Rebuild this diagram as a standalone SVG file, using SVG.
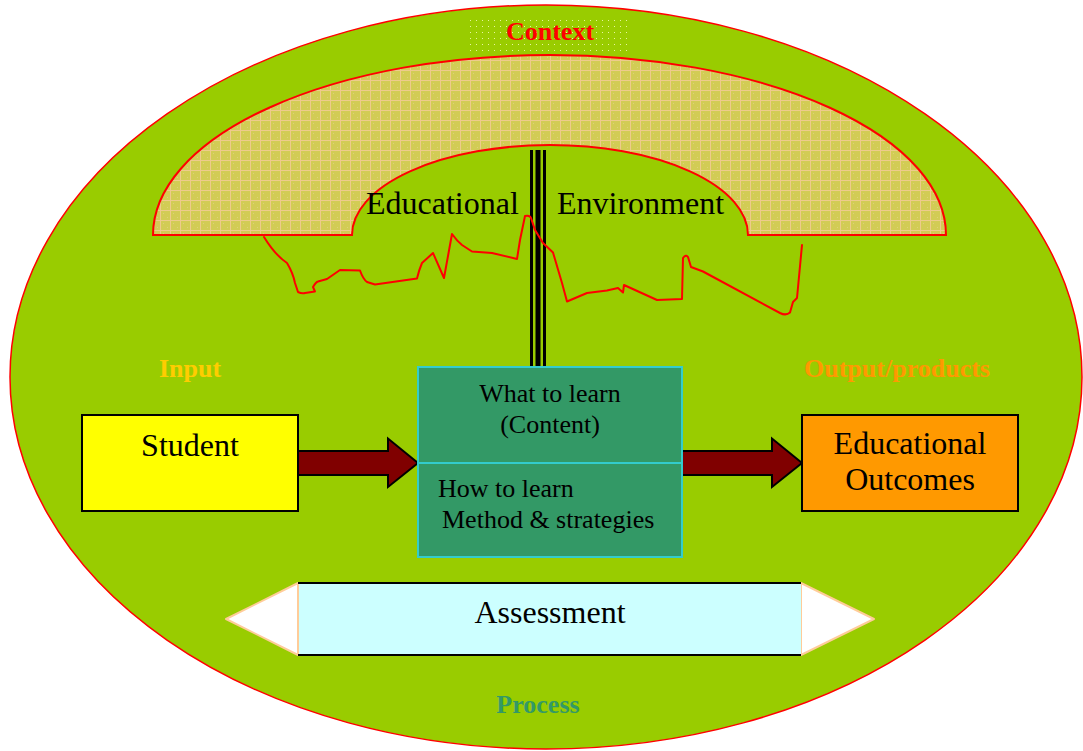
<svg xmlns="http://www.w3.org/2000/svg" width="1083" height="751" viewBox="0 0 1083 751">
  <defs>
    <pattern id="hatch" width="10" height="10" patternUnits="userSpaceOnUse">
      <rect width="10" height="10" fill="#d2cc55"/>
      <rect x="3" y="3" width="1" height="1" fill="#dcd478"/>
      <rect x="7" y="7" width="1" height="1" fill="#dcd478"/>
      <path d="M0 0.5H10M0.5 0V10" stroke="#eecb8c" stroke-width="1"/>
    </pattern>
    <pattern id="dots" width="6" height="6" patternUnits="userSpaceOnUse">
      <rect width="6" height="6" fill="#99cc00"/>
      <rect x="2" y="2" width="1" height="1" fill="#e8f5a0"/>
    </pattern>
    <style>
      .lbl { font-family: "Liberation Serif", "Times New Roman", serif; font-weight: bold; font-size: 26px; text-anchor: middle; }
      .big { font-family: "Liberation Serif", "Times New Roman", serif; font-size: 32px; fill: #000; }
      .mid { font-family: "Liberation Serif", "Times New Roman", serif; font-size: 26px; fill: #000; }
      .box { stroke: #000; stroke-width: 2; }
      .arrow { fill: #800000; stroke: #000; stroke-width: 2; stroke-linejoin: miter; }
    </style>
  </defs>

  <g id="context">
    <ellipse cx="546" cy="377" rx="536" ry="372" fill="#99cc00" stroke="#ff0000" stroke-width="1.5"/>
    <rect x="468" y="15" width="164" height="38" fill="url(#dots)"/>
    <text class="lbl" x="550" y="40" fill="#ff0000">Context</text>
  </g>

  <g id="environment">
    <path d="M153 235 A396.5 180 0 0 1 946 235 L748 235 A198 90 0 0 0 352 235 Z" fill="url(#hatch)" stroke="#ff0000" stroke-width="2"/>
    <text class="big" x="366" y="214">Educational</text>
    <text class="big" x="557" y="214">Environment</text>
  </g>

  <g id="connectors">
    <rect x="530" y="150" width="3" height="217" fill="#000"/>
    <rect x="535.5" y="150" width="5" height="217" fill="#000"/>
    <rect x="543" y="150" width="3" height="217" fill="#000"/>
    <path class="arrow" d="M298 451 H388 V438.5 L418 463 L388 487 V475 H298 Z"/>
    <path class="arrow" d="M682 451 H772 V438.5 L802 463 L772 487 V475 H682 Z"/>
  </g>

  <g id="squiggle">
    <path d="M264 237 Q275 255 287 263 Q293 273 295 283 L298 292 Q302 294 305 293 L315 291.5 L313 287 Q316 282 318 281.5 L327 279 L340 270 L360 270.5 Q363 279 367 282 L375 284.5 L417 278.5 Q419 270 422 263 L433 253 L444 278 L452 234 Q457 241 462 245 L472 251.5 L492 253 L517 259 L520 240 L525 216 Q530 215 531 218 L535 230 L543 243 L553 252.5 L562 283 L567 301.5 L587 293 L607 290.5 L618 288 L623 292.5 L624 285 L657 300 L682 299 L683 258 Q686 254 688 257 L691 267 L703 271.5 L780 313 Q786 316 790 312.5 L793 302 L797 298 L802 245" fill="none" stroke="#ff0000" stroke-width="2" stroke-linejoin="round" stroke-linecap="round"/>
  </g>

  <g id="input-label">
    <text class="lbl" x="190" y="377" fill="#ffcc00">Input</text>
  </g>
  <g id="output-label">
    <text class="lbl" x="897" y="377" fill="#ff9900">Output/products</text>
  </g>

  <g id="student">
    <rect class="box" x="82" y="415" width="216" height="96" fill="#ffff00"/>
    <text class="big" x="190" y="456" text-anchor="middle">Student</text>
  </g>

  <g id="process-box">
    <rect x="418" y="367" width="264" height="190" fill="#339966" stroke="#33cccc" stroke-width="2"/>
    <line x1="418" y1="463" x2="682" y2="463" stroke="#33cccc" stroke-width="2"/>
    <text class="mid" x="550" y="402" text-anchor="middle">What to learn</text>
    <text class="mid" x="550" y="433" text-anchor="middle">(Content)</text>
    <text class="mid" x="438" y="497">How to learn</text>
    <text class="mid" x="442" y="528">Method &amp; strategies</text>
  </g>

  <g id="outcomes">
    <rect class="box" x="802" y="415" width="216" height="96" fill="#ff9900"/>
    <text class="big" x="910" y="454" text-anchor="middle">Educational</text>
    <text class="big" x="910" y="490" text-anchor="middle">Outcomes</text>
  </g>

  <g id="assessment">
    <polygon points="298,583 298,655 226,619" fill="#ffffff" stroke="#ffcc99" stroke-width="2" stroke-linejoin="round"/>
    <polygon points="801,583 801,655 874,619" fill="#ffffff" stroke="#ffcc99" stroke-width="2" stroke-linejoin="round"/>
    <rect x="299" y="583" width="502" height="72" fill="#ccffff"/>
    <line x1="298" y1="583" x2="801" y2="583" stroke="#000" stroke-width="2"/>
    <line x1="298" y1="655" x2="801" y2="655" stroke="#000" stroke-width="2"/>
    <text class="big" x="550" y="623" text-anchor="middle">Assessment</text>
  </g>

  <g id="process-label">
    <text class="lbl" x="538" y="713" fill="#339966">Process</text>
  </g>
</svg>
